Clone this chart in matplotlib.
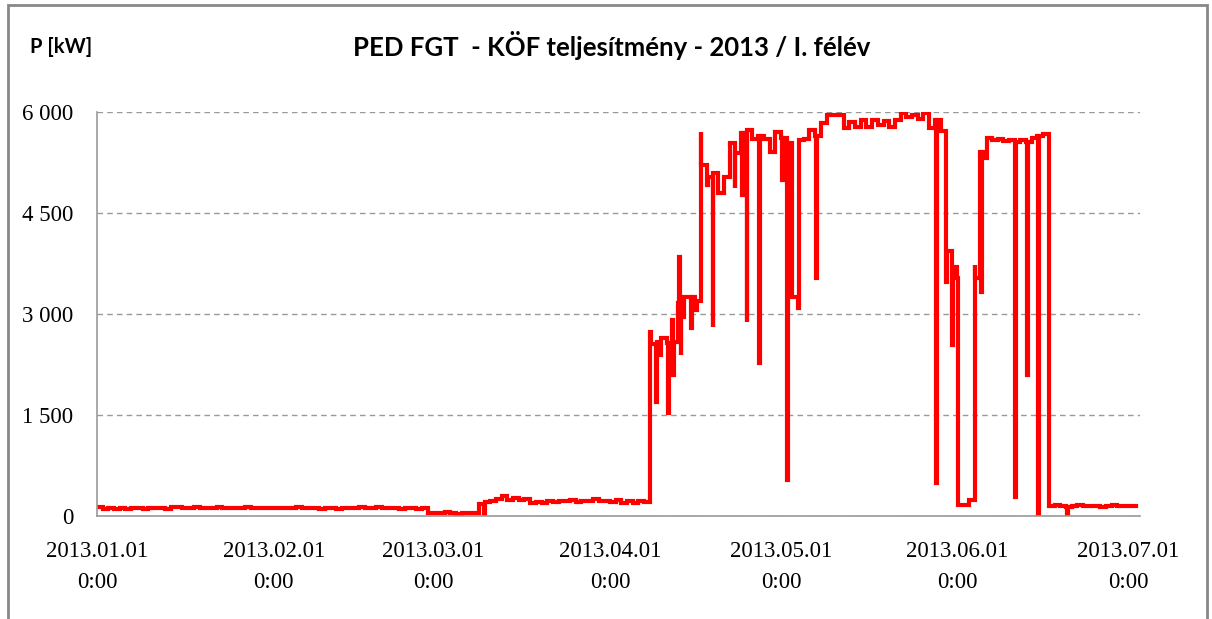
import matplotlib
matplotlib.use("Agg")
import matplotlib.pyplot as plt
from matplotlib.patches import Rectangle
import pandas as pd

# daily base power [kW], 2013-01-01 .. 2013-07-02
jan = [130, 110, 120, 105, 115, 110, 120, 115, 105, 120, 115, 125, 110, 140, 130, 125,
       120, 130, 115, 125, 120, 130, 120, 115, 125, 120, 130, 115, 120, 125, 120]
feb = [120, 125, 115, 120, 130, 120, 115, 125, 105, 120, 125, 100, 120, 125, 115, 130,
       120, 125, 130, 115, 120, 125, 110, 115, 120, 100, 115, 45]
mar = [45, 40, 55, 45, 35, 50, 40, 45, 180, 210, 230, 250, 300, 240, 260, 240,
       250, 190, 210, 200, 220, 210, 230, 220, 240, 210, 230, 220, 250, 220, 230]
apr = [210, 240, 200, 230, 190, 220, 210, 2550, 2580, 2650, 2570, 2580, 3160, 3250, 3250,
       3200, 5210, 5030, 5100, 4800, 5030, 5540, 5390, 5690, 5730, 5600, 5650, 5600, 5410, 5700]
may = [5620, 5540, 3250, 5580, 5600, 5730, 5650, 5840, 5960, 5950, 5950, 5760, 5850, 5780,
       5880, 5780, 5880, 5800, 5870, 5780, 5880, 5980, 5920, 5960, 5900, 5990, 5760, 5880,
       5720, 3930, 3530]
jun = [160, 170, 240, 3530, 5410, 5610, 5580, 5600, 5570, 5590, 5550, 5580, 5560, 5620,
       5640, 5680, 150, 160, 150, 140, 150, 160, 145, 150, 155, 140, 150, 160, 150, 145]
jul = [150, 155]
end_time = "2013-07-02 08:00"

# short dips / peaks inside a day
spike_times = ["2013-03-09 22:00", "2013-04-08 00:30", "2013-04-09 02:00", "2013-04-09 18:00",
               "2013-04-11 04:00", "2013-04-11 21:00", "2013-04-12 02:00", "2013-04-13 02:00",
               "2013-04-13 10:00", "2013-04-13 19:00", "2013-04-15 05:00", "2013-04-16 03:00",
               "2013-04-16 22:00", "2013-04-18 00:00", "2013-04-19 00:00", "2013-04-22 22:00",
               "2013-04-24 05:00", "2013-04-25 00:00", "2013-04-27 03:00", "2013-05-01 04:00",
               "2013-05-02 03:00", "2013-05-04 00:00", "2013-05-07 03:00", "2013-05-28 05:00",
               "2013-05-30 00:00", "2013-05-31 00:00", "2013-05-31 17:00", "2013-06-04 00:00",
               "2013-06-05 02:00", "2013-06-06 00:00", "2013-06-11 02:00", "2013-06-13 05:00",
               "2013-06-15 02:00", "2013-06-20 05:00"]
spike_kw = [0, 2730, 1690, 2390,
            1530, 2910, 2090, 3850,
            2390, 2950, 2790, 3060,
            5700, 4910, 2810, 4870,
            4770, 2880, 2270, 4990,
            535, 3090, 3530, 490,
            3480, 2540, 3700, 3730,
            3330, 5320, 280, 2090,
            15, 0]

daily_kw = jan + feb + mar + apr + may + jun + jul
base = pd.Series(daily_kw, index=pd.date_range("2013-01-01", periods=len(daily_kw), freq="D"))

points = base.copy()
for t, v in zip(spike_times, spike_kw):
    t = pd.Timestamp(t)
    back = t + pd.Timedelta(hours=3)
    points[t] = v
    if back not in points.index:
        points[back] = base[:back].iloc[-1]
points[pd.Timestamp(end_time)] = daily_kw[-1]
points = points.sort_index()

fig = plt.figure(figsize=(12.12, 6.19), dpi=100)
ax = fig.add_axes([97 / 1212, 1 - 516 / 619, (1140 - 97) / 1212, (516 - 112) / 619])

ax.step(points.index, points.values, where="post", color="#ff0000", lw=3, solid_joinstyle="miter")

ax.set_ylim(0, 6000)
ax.set_xlim(pd.Timestamp("2013-01-01"), pd.Timestamp("2013-07-03"))
ax.set_yticks([0, 1500, 3000, 4500, 6000])
ax.set_yticklabels(["0", "1 500", "3 000", "4 500", "6 000"])
xt = pd.date_range("2013-01-01", "2013-07-01", freq="MS")
ax.set_xticks(xt)
ax.set_xticklabels([d.strftime("%Y.%m.%d") + "\n0:00" for d in xt], linespacing=1.6)
ax.grid(axis="y", color="#999999", ls=(0, (4, 3)), lw=1)
ax.set_axisbelow(True)
for s in ["top", "right"]:
    ax.spines[s].set_visible(False)
for s in ["left", "bottom"]:
    ax.spines[s].set_color("#999999")
    ax.spines[s].set_linewidth(1.2)
ax.tick_params(length=0, labelsize=16.5)
ax.tick_params(axis="y", pad=17)
ax.tick_params(axis="x", pad=18)
for lab in ax.get_xticklabels() + ax.get_yticklabels():
    lab.set_fontfamily("Liberation Serif")

fig.text(0.505, 1 - 46 / 619, "PED FGT  - KÖF teljesítmény - 2013 / I. félév", ha="center", va="center",
         fontsize=18.5, fontweight="bold", family=["Lato", "DejaVu Sans"])
fig.text(30 / 1212, 1 - 47 / 619, "P [kW]", ha="left", va="center",
         fontsize=14.5, fontweight="bold", family=["Lato", "DejaVu Sans"])

fig.patches.append(Rectangle((8 / 1212, -0.1), 1199 / 1212, 1.1 - 5 / 619, transform=fig.transFigure,
                             fill=False, edgecolor="#888888", lw=2))

fig.savefig("out.png", dpi=100)
